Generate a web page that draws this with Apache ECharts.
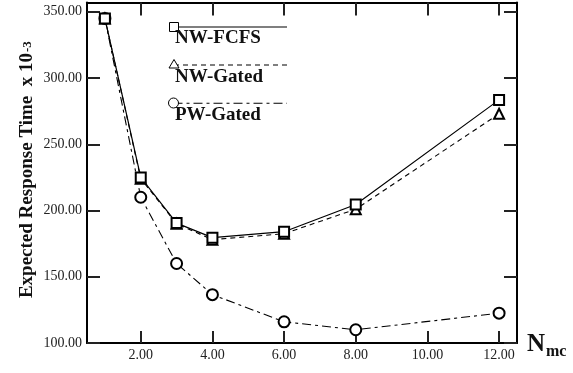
<!DOCTYPE html>
<html>
<head>
<meta charset="utf-8">
<script src="https://cdn.jsdelivr.net/npm/echarts@6/dist/echarts.min.js"></script>
<style>
  html, body { margin: 0; padding: 0; background: #fff; }
  #chart { width: 573px; height: 373px; }
</style>
</head>
<body>
<div id="chart"></div>
<script>
// Number of memory controllers (x) and expected response time (y, x 10^-3)
const nmc = [1, 2, 3, 4, 6, 8, 12];
const nwFcfs = [345, 225, 190.5, 179.5, 184, 204.5, 283.5];
const nwGated = [345, 224, 190, 178, 182.5, 201, 273];
const pwGated = [345, 210, 160, 136.5, 116, 110, 122.5];

const xTicks = [2, 4, 6, 8, 10, 12];
const yTicks = [100, 150, 200, 250, 300, 350];

const seriesNames = ['NW-FCFS', 'NW-Gated', 'PW-Gated'];
const yName = 'Expected Response Time  x 10';
const yNameSup = '-3';
const xName = 'N';
const xNameSub = 'mc';

const SERIF = '"Liberation Serif", "DejaVu Serif", serif';
const pairs = (ys) => nmc.map((x, i) => [x, ys[i]]);

const frameLine = { show: true, onZero: false, lineStyle: { color: '#000', width: 2 } };
const tickStyle = { color: '#222', width: 2 };

const chart = echarts.init(document.getElementById('chart'), null, { renderer: 'canvas' });

chart.setOption({
  animation: false,
  backgroundColor: '#fff',
  grid: { left: 87, right: 56, top: 2.5, bottom: 30 },
  xAxis: [
    {
      type: 'value', min: 0.5, max: 12.5, position: 'bottom',
      axisLine: frameLine,
      axisTick: { show: true, inside: true, length: 12, customValues: xTicks, lineStyle: tickStyle },
      axisLabel: {
        customValues: xTicks, margin: 5, color: '#222',
        fontFamily: SERIF, fontSize: 14,
        formatter: (v) => v.toFixed(2)
      },
      splitLine: { show: false }
    },
    {
      type: 'value', min: 0.5, max: 12.5, position: 'top',
      axisLine: frameLine,
      axisTick: { show: true, inside: true, length: 13, customValues: xTicks, lineStyle: tickStyle },
      axisLabel: { show: false },
      splitLine: { show: false }
    }
  ],
  yAxis: [
    {
      type: 'value', min: 100, max: 357, position: 'left',
      axisLine: frameLine,
      axisTick: { show: true, inside: true, length: 13, customValues: yTicks, lineStyle: tickStyle },
      axisLabel: {
        customValues: yTicks, margin: 5, color: '#222',
        fontFamily: SERIF, fontSize: 14,
        formatter: (v) => v.toFixed(2)
      },
      splitLine: { show: false }
    },
    {
      type: 'value', min: 100, max: 357, position: 'right',
      axisLine: frameLine,
      axisTick: { show: true, inside: true, length: 13, customValues: yTicks, lineStyle: tickStyle },
      axisLabel: { show: false },
      splitLine: { show: false }
    }
  ],
  series: [
    {
      name: seriesNames[2], type: 'line', data: pairs(pwGated),
      symbol: 'emptyCircle', symbolSize: 11,
      itemStyle: { color: '#000', borderColor: '#000', borderWidth: 1 },
      lineStyle: { color: '#000', width: 1.1, type: [9, 4, 3, 4] },
      z: 2
    },
    {
      name: seriesNames[1], type: 'line', data: pairs(nwGated),
      symbol: 'emptyTriangle', symbolSize: 10,
      itemStyle: { color: '#000', borderColor: '#000', borderWidth: 1 },
      lineStyle: { color: '#000', width: 1.1, type: [5, 4] },
      z: 3
    },
    {
      name: seriesNames[0], type: 'line', data: pairs(nwFcfs),
      symbol: 'emptyRect', symbolSize: 10,
      itemStyle: { color: '#000', borderColor: '#000', borderWidth: 1 },
      lineStyle: { color: '#000', width: 1.2, type: 'solid' },
      z: 4
    }
  ],
  graphic: [
    // legend: marker + line sample, name underneath
    { type: 'line', shape: { x1: 174, y1: 27, x2: 287, y2: 27 }, style: { stroke: '#000', lineWidth: 1.2 } },
    { type: 'rect', shape: { x: 169.5, y: 22.5, width: 9, height: 9 }, style: { fill: '#fff', stroke: '#000', lineWidth: 1 } },
    { type: 'text', x: 175, y: 38.5, style: { text: seriesNames[0], fontFamily: SERIF, fontSize: 19, fontWeight: 'bold', fill: '#111', verticalAlign: 'middle' } },

    { type: 'line', shape: { x1: 174, y1: 65, x2: 287, y2: 65 }, style: { stroke: '#000', lineWidth: 1.1, lineDash: [5, 4] } },
    { type: 'polygon', shape: { points: [[174, 59.5], [169, 68], [179, 68]] }, style: { fill: '#fff', stroke: '#000', lineWidth: 1 } },
    { type: 'text', x: 175, y: 77, style: { text: seriesNames[1], fontFamily: SERIF, fontSize: 19, fontWeight: 'bold', fill: '#111', verticalAlign: 'middle' } },

    { type: 'line', shape: { x1: 173.5, y1: 103.3, x2: 287, y2: 103.3 }, style: { stroke: '#000', lineWidth: 1.1, lineDash: [9, 4, 3, 4] } },
    { type: 'circle', shape: { cx: 173.5, cy: 103, r: 5 }, style: { fill: '#fff', stroke: '#000', lineWidth: 1 } },
    { type: 'text', x: 175, y: 115.5, style: { text: seriesNames[2], fontFamily: SERIF, fontSize: 19, fontWeight: 'bold', fill: '#111', verticalAlign: 'middle' } },

    // y axis title with superscript exponent
    { type: 'text', x: 27.5, y: 53, rotation: Math.PI / 2,
      style: { text: yName, fontFamily: SERIF, fontSize: 19, fontWeight: 'bold', fill: '#111', align: 'right', verticalAlign: 'middle' } },
    { type: 'text', x: 27.5, y: 52, rotation: Math.PI / 2,
      style: { text: yNameSup, fontFamily: SERIF, fontSize: 13, fontWeight: 'bold', fill: '#111', align: 'left', verticalAlign: 'middle' } },

    // x axis title with subscript
    { type: 'text', x: 527, y: 344.5, style: { text: xName, fontFamily: SERIF, fontSize: 25, fontWeight: 'bold', fill: '#111', align: 'left', verticalAlign: 'middle' } },
    { type: 'text', x: 546, y: 351.5, style: { text: xNameSub, fontFamily: SERIF, fontSize: 16, fontWeight: 'bold', fill: '#111', align: 'left', verticalAlign: 'middle' } }
  ]
});
</script>
</body>
</html>
